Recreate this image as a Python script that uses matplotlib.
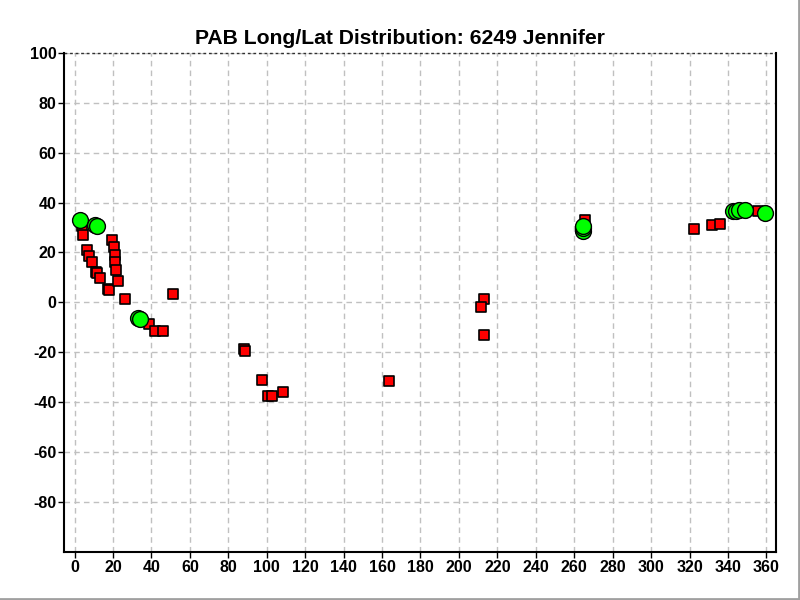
import matplotlib
matplotlib.use("Agg")
import matplotlib.pyplot as plt
from matplotlib.lines import Line2D

title = "PAB Long/Lat Distribution: 6249 Jennifer"

# red square points (longitude, latitude)
red_lon = [4.0, 4.5, 6.5, 7.6, 9.1, 11.4, 11.9, 13.3, 17.5, 18.0, 19.5, 20.6, 21.1, 21.1,
           21.6, 22.6, 26.3, 51.2, 38.8, 42.1, 46.0, 88.1, 88.6, 97.5, 100.6, 102.6, 108.4,
           163.4, 212.8, 211.7, 212.8, 265.8, 322.4, 331.8, 335.9, 355.6]
red_lat = [30.5, 27.2, 21.1, 18.7, 16.3, 12.2, 11.8, 9.8, 5.3, 5.0, 25.2, 22.2, 19.1, 16.1,
           13.1, 8.7, 1.3, 3.2, -8.5, -11.4, -11.4, -18.7, -19.5, -30.9, -37.4, -37.4, -35.8,
           -31.5, 1.5, -1.8, -13.2, 33.2, 29.3, 30.9, 31.4, 36.6]

# green circle points (longitude, latitude)
green_lon = [2.8, 10.7, 11.7, 33.0, 34.1, 264.4, 264.4, 264.4, 342.6, 344.3, 346.0, 349.1, 359.1]
green_lat = [33.2, 31.0, 30.7, -6.1, -6.5, 28.7, 29.7, 30.7, 36.8, 36.8, 37.0, 37.2, 35.9]

x_ticks = list(range(0, 361, 20))
y_ticks = list(range(-80, 101, 20))

plt.rcParams['font.family'] = ['Liberation Sans', 'DejaVu Sans']
plt.rcParams['axes.unicode_minus'] = False

fig = plt.figure(figsize=(8, 6), dpi=100)
ax = fig.add_axes([0.08, 0.08, 0.89, 0.832])

ax.scatter(red_lon, red_lat, marker='s', s=58, facecolor='#ff0000', edgecolor='black',
           linewidth=1.2, zorder=3)
ax.scatter(green_lon, green_lat, marker='o', s=130, facecolor='#00ff00', edgecolor='black',
           linewidth=1.0, zorder=4)

ax.set_xlim(-5.5, 365)
ax.set_ylim(-100, 100)
ax.set_xticks(x_ticks)
ax.set_yticks(y_ticks)
ax.tick_params(axis='both', labelsize=11.5, length=4, width=1, direction='out', pad=1.5)
for lab in ax.get_xticklabels() + ax.get_yticklabels():
    lab.set_fontweight('bold')

ax.grid(True, color='#c0c0c0', linestyle=(0, (4, 3)), linewidth=1)
ax.set_axisbelow(True)
ax.spines['top'].set_visible(False)
for sp in ['left', 'right', 'bottom']:
    ax.spines[sp].set_linewidth(1.5)
ax.axhline(100, color='#303030', linestyle=(0, (2, 2)), linewidth=1, zorder=2, clip_on=False)

fig.text(0.5, 1 - 43.5 / 600, title, fontsize=15.2, fontweight='bold', ha='center', va='baseline')

# window frame edges
fig.add_artist(Line2D([0.999, 0.999], [0, 1], transform=fig.transFigure, color='#a0a0a0', linewidth=2))
fig.add_artist(Line2D([0, 1], [0.001, 0.001], transform=fig.transFigure, color='#a0a0a0', linewidth=2))

fig.savefig("out.png", dpi=100)
